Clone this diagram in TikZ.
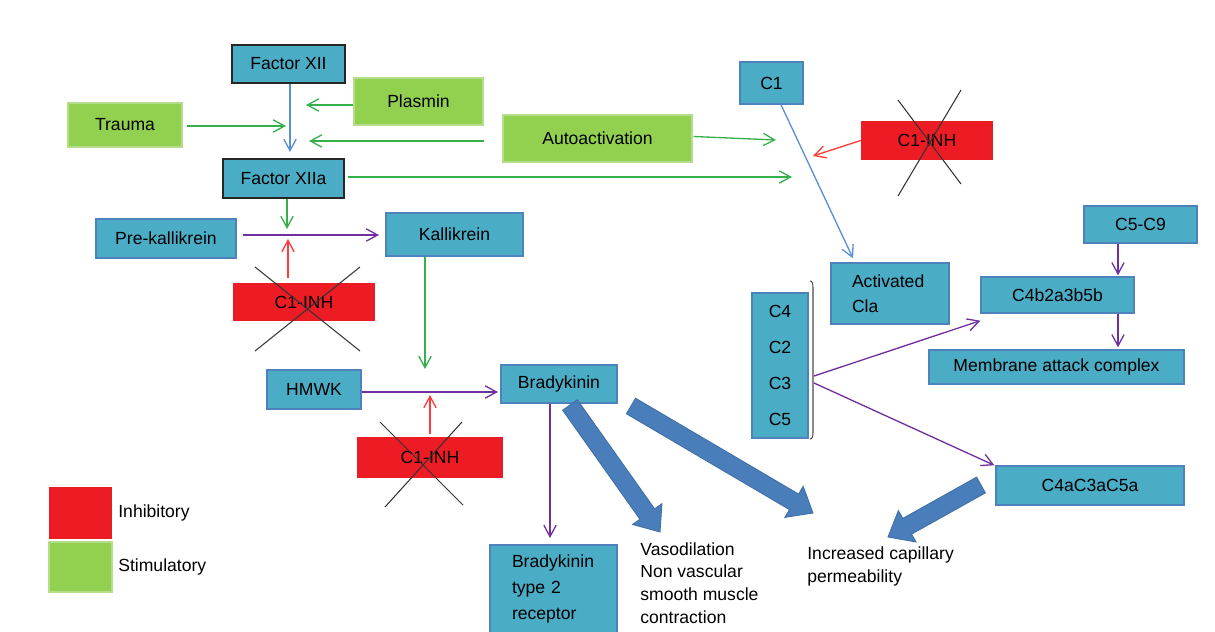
\documentclass[tikz,border=0pt]{standalone}
\usepackage{fontspec}
\setmainfont{Liberation Sans}
\usetikzlibrary{arrows.meta,calc}
\definecolor{boxblue}{HTML}{4BACC6}
\definecolor{boxline}{HTML}{4F81BD}
\definecolor{stimgreen}{HTML}{92D050}
\definecolor{greenline}{HTML}{B5DD8C}
\definecolor{inhred}{HTML}{ED1C24}
\definecolor{arrgreen}{HTML}{35B04B}
\definecolor{arrpurple}{HTML}{7030A0}
\definecolor{arrred}{HTML}{FF3B3B}
\definecolor{arrblue}{HTML}{5B8FD4}
\definecolor{fatfill}{HTML}{4A7EBB}
\definecolor{fatline}{HTML}{3F6FA8}
\newcommand\fatarr[2]{%
  \coordinate (fa-c) at ($(#2)!0.44cm!(#1)$);
  \filldraw[fat] ($(#1)!0.18cm!90:(#2)$) -- ($(fa-c)!0.18cm!90:(#2)$) -- ($(fa-c)!0.36cm!90:(#2)$) -- (#2) -- ($(fa-c)!0.36cm!-90:(#2)$) -- ($(fa-c)!0.18cm!-90:(#2)$) -- ($(#1)!0.18cm!-90:(#2)$) -- cycle;}
\begin{document}
\begin{tikzpicture}[x=0.02cm,y=-0.02cm,
  font=\fontsize{10}{12}\selectfont,
  bluebox/.style={draw=boxline, fill=boxblue, line width=0.8pt, inner sep=0pt},
  blackbox/.style={draw=black!85, fill=boxblue, line width=1.1pt, inner sep=0pt},
  greenbox/.style={draw=greenline, fill=stimgreen, line width=0.6pt, inner sep=0pt},
  redbox/.style={fill=inhred, inner sep=0pt},
  arr/.style={line width=0.75pt, -{Straight Barb[length=6.5pt,width=7pt]}},
  garr/.style={arr, draw=arrgreen},
  parr/.style={arr, draw=arrpurple},
  rarr/.style={arr, draw=arrred},
  barr/.style={arr, draw=arrblue},
  cross/.style={draw=black!80, line width=0.6pt},
  brk/.style={draw=black!70, line width=0.6pt},
  fat/.style={fill=fatfill, draw=fatline, line width=0.5pt, line join=miter}
]
\clip (0,0) rectangle (1215,632);
\fill[white] (0,0) rectangle (1215,632);

% nodes
\node[blackbox, minimum width=2.26cm, minimum height=0.76cm] (fxii) at (288.5,64) {Factor XII};
\node[greenbox, minimum width=2.58cm, minimum height=0.94cm] (plasmin) at (418.5,101.5) {Plasmin};
\node[greenbox, minimum width=2.28cm, minimum height=0.88cm] (trauma) at (125,125) {Trauma};
\node[greenbox, minimum width=3.78cm, minimum height=0.94cm] (auto) at (597.5,138.5) {Autoactivation};
\node[blackbox, minimum width=2.42cm, minimum height=0.78cm] (fxiia) at (283.5,178.5) {Factor XIIa};
\node[bluebox, minimum width=2.80cm, minimum height=0.78cm] (prek) at (166,238.5) {Pre-kallikrein};
\node[bluebox, minimum width=2.74cm, minimum height=0.86cm] (kall) at (454.5,234.5) {Kallikrein};
\node[redbox, minimum width=2.84cm, minimum height=0.76cm] (inh1) at (304,302) {C1-INH};
\node[bluebox, minimum width=1.88cm, minimum height=0.78cm] (hmwk) at (314,389.5) {HMWK};
\node[bluebox, minimum width=2.32cm, minimum height=0.76cm] (brady) at (559,384) {Bradykinin};
\node[redbox, minimum width=2.92cm, minimum height=0.82cm] (inh2) at (430,457.5) {C1-INH};
\node[bluebox, minimum width=1.26cm, minimum height=0.84cm] (c1) at (771.5,83) {C1};
\node[redbox, minimum width=2.64cm, minimum height=0.78cm] (inh3) at (927,140.5) {C1-INH};
\node[bluebox, minimum width=2.36cm, minimum height=1.22cm, text width=1.52cm, inner xsep=0.42cm, align=left, font=\fontsize{10}{14.2}\selectfont] (acla) at (890,293.5) {Activated\\Cla};
\node[bluebox, minimum width=1.12cm, minimum height=2.90cm, align=center, font=\fontsize{10}{20.4}\selectfont] (cbox) at (780,365.5) {C4\\C2\\C3\\C5};
\node[bluebox, minimum width=2.26cm, minimum height=0.74cm] (c59) at (1140.5,224.5) {C5-C9};
\node[bluebox, minimum width=3.06cm, minimum height=0.72cm] (c4b) at (1057.5,295) {C4b2a3b5b};
\node[bluebox, minimum width=5.10cm, minimum height=0.68cm] (mac) at (1056.5,367) {Membrane attack complex};
\node[bluebox, minimum width=3.76cm, minimum height=0.78cm] (c4a) at (1090,485.5) {C4aC3aC5a};
\node[bluebox, minimum width=2.54cm, minimum height=1.76cm, text width=1.66cm, inner xsep=0.44cm, align=left, font=\fontsize{10}{14.7}\selectfont] (b2r) at (553.5,589) {Bradykinin\\type 2\\receptor};
\node[anchor=west, align=left, inner sep=0pt, font=\fontsize{10}{12.9}\selectfont] (vaso) at (640,583) {Vasodilation\\Non vascular\\smooth muscle\\contraction};
\node[anchor=west, align=left, inner sep=0pt, font=\fontsize{10}{13}\selectfont] (incr) at (807,566.5) {Increased capillary\\permeability};

% legend
\node[redbox, minimum width=1.26cm, minimum height=1.04cm] (legr) at (80.5,513) {};
\node[greenbox, minimum width=1.26cm, minimum height=1.0cm] (legg) at (80.5,567) {};
\node[anchor=west, inner sep=0pt] (legrt) at (118,513) {Inhibitory};
\node[anchor=west, inner sep=0pt] (leggt) at (118,567) {Stimulatory};

% thin connectors
\coordinate (e1) at (290,152);
\draw[barr] (fxii.south -| e1) -- (e1);
\coordinate (e2) at (306,105);
\draw[garr] (plasmin.west |- e2) -- (e2);
\coordinate (e3) at (286,126);
\draw[garr] ($(trauma.east |- e3)+(4,0)$) -- (e3);
\coordinate (e4) at (309,141);
\draw[garr] ($(auto.west |- e4)+(-18,0)$) -- (e4);
\coordinate (e5) at (776,140);
\draw[garr] ($(auto.east)+(1,-2)$) -- (e5);
\coordinate (e6) at (792,177);
\draw[garr] ($(fxiia.east |- e6)+(3,0)$) -- (e6);
\coordinate (e7) at (287,229);
\draw[garr] (fxiia.south -| e7) -- (e7);
\coordinate (e8) at (379,235);
\draw[parr] ($(prek.east |- e8)+(6,0)$) -- (e8);
\coordinate (e9) at (288,239);
\draw[rarr] ($(inh1.north -| e9)+(0,-5)$) -- (e9);
\coordinate (e10) at (425,369);
\draw[garr] (kall.south -| e10) -- (e10);
\coordinate (e11) at (498,392);
\draw[parr] (hmwk.east |- e11) -- (e11);
\coordinate (e12) at (430,395);
\draw[rarr] ($(inh2.north -| e12)+(0,-3)$) -- (e12);
\coordinate (e13) at (550,538);
\draw[parr] (brady.south -| e13) -- (e13);
\draw[barr] ($(c1.south)+(9.5,0)$) -- ($(acla.north)+(-37,-4)$);
\coordinate (e15) at (813,156);
\draw[rarr] (inh3.west) -- (e15);

% bracket
\draw[brk] (810,281) .. controls (812.5,281) and (813,284) .. (813,288) -- (813,432) .. controls (813,436) and (812.5,439) .. (810,439);
\coordinate (br1) at (814,376);
\coordinate (br2) at (814,383);
\draw[parr] (br1) -- ($(c4b.south west)+(0,7)$);
\draw[parr] (br2) -- ($(c4a.north west)+(-1,0)$);
\coordinate (vx) at (1118,0);
\draw[parr] (c59.south -| vx) -- ($(c4b.north -| vx)+(0,-1)$);
\draw[parr] (c4b.south -| vx) -- ($(mac.north -| vx)+(0,-2)$);

% crosses
\draw[cross] (255,267) -- (360,351) (255,351) -- (360,267);
\draw[cross] (380,422) -- (463,505) (385,507) -- (462,422);
\draw[cross] (898,100) -- (961,184) (898,196) -- (961,90);

% fat arrows
\coordinate (f1s) at (570,405); \coordinate (f1t) at (660,532);
\coordinate (f2s) at (631,406); \coordinate (f2t) at (813,513);
\coordinate (f3s) at (981,485); \coordinate (f3t) at (888,537);
\fatarr{f1s}{f1t}
\fatarr{f2s}{f2t}
\fatarr{f3s}{f3t}
\end{tikzpicture}
\end{document}
